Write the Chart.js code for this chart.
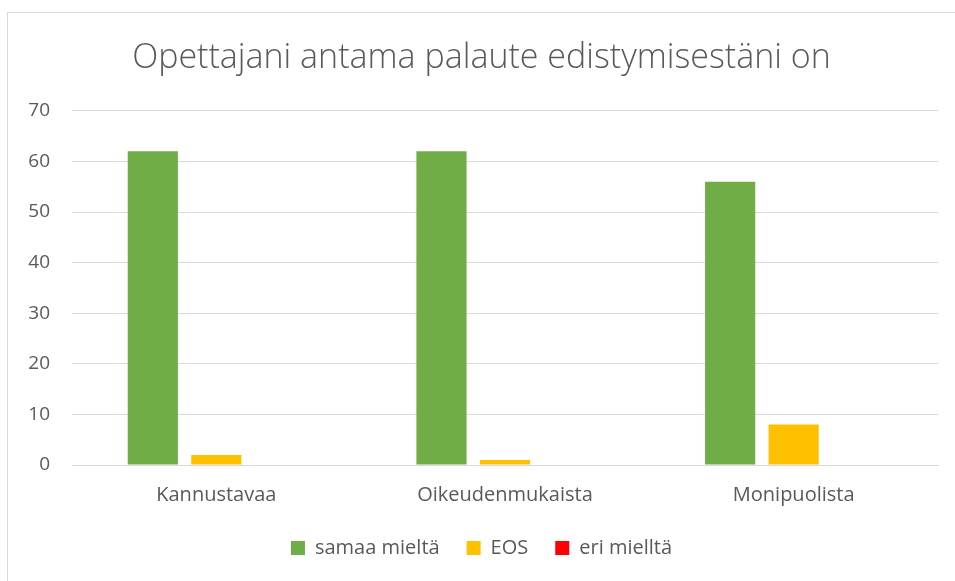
<!DOCTYPE html>
<html lang="fi">
<head>
    <meta charset="UTF-8">
    <title>Opettajani antama palaute edistymisestäni on</title>
    <script src="https://cdn.jsdelivr.net/npm/chart.js"></script>
    <style>
        html, body { margin: 0; padding: 0; background: #fff; overflow: hidden; }
        .frame {
            position: absolute; left: 7px; top: 12px; width: 960px; height: 600px;
            border: 1px solid #d9d9d9; box-sizing: border-box;
        }
        .chart-box { position: absolute; left: 0; top: 0; width: 955px; height: 581px; }
    </style>
</head>
<body>
    <div class="frame"></div>
    <div class="chart-box">
        <canvas id="palauteChart"></canvas>
    </div>

    <script>
        // Data luettu kuvasta
        const categories = ['Kannustavaa', 'Oikeudenmukaista', 'Monipuolista'];
        const samaaMielta = [62, 62, 56];
        const eos = [2, 1, 8];
        const eriMielta = [0, 0, 0];
        const seriesNames = ['samaa mieltä', 'EOS', 'eri mielltä'];
        const yTicks = [0, 10, 20, 30, 40, 50, 60, 70];

        const textColor = '#595959';
        const gridColor = '#d9d9d9';
        const fontFamily = "'Open Sans', 'Noto Sans', sans-serif";

        const ctx = document.getElementById('palauteChart').getContext('2d');
        new Chart(ctx, {
            type: 'bar',
            data: {
                labels: categories,
                datasets: [
                    { label: seriesNames[0], data: samaaMielta, backgroundColor: '#70ad47' },
                    { label: seriesNames[1], data: eos, backgroundColor: '#ffc000' },
                    { label: seriesNames[2], data: eriMielta, backgroundColor: '#ff0000' }
                ]
            },
            options: {
                responsive: true,
                maintainAspectRatio: false,
                animation: false,
                categoryPercentage: 0.66,
                barPercentage: 0.79,
                layout: { padding: { left: 25, right: 17, top: 20, bottom: 13 } },
                plugins: {
                    title: {
                        display: true,
                        text: 'Opettajani antama palaute edistymisestäni on',
                        color: textColor,
                        font: { family: fontFamily, size: 34, weight: '300' },
                        padding: { top: 18, bottom: 32 }
                    },
                    legend: {
                        position: 'bottom',
                        labels: {
                            color: textColor,
                            font: { family: fontFamily, size: 20 },
                            boxWidth: 14,
                            boxHeight: 14,
                            padding: 27
                        }
                    },
                    tooltip: { enabled: false }
                },
                scales: {
                    x: {
                        afterFit: (scale) => { scale.height = 46; },
                        grid: { display: false },
                        border: { color: gridColor },
                        ticks: { color: textColor, font: { family: fontFamily, size: 20 }, padding: 10 }
                    },
                    y: {
                        min: 0,
                        max: 70,
                        afterFit: (scale) => { scale.width = 47; },
                        afterBuildTicks: (scale) => { scale.ticks = yTicks.map(v => ({ value: v })); },
                        grid: { color: gridColor, drawTicks: false },
                        border: { display: false },
                        ticks: { color: textColor, font: { family: fontFamily, size: 19 }, padding: 22 }
                    }
                }
            }
        });
    </script>
</body>
</html>
